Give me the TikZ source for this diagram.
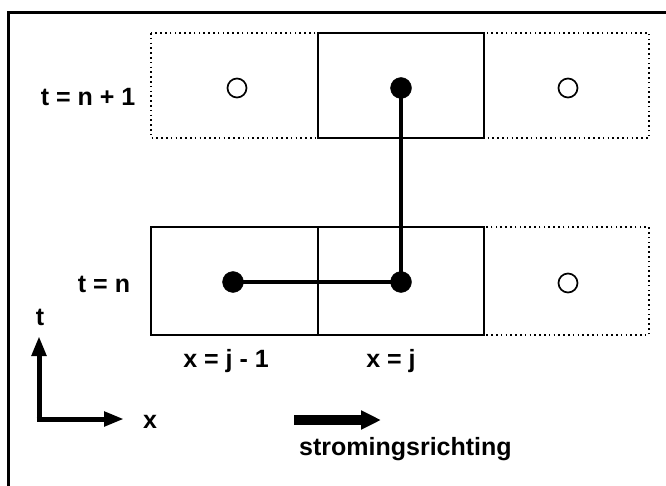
\documentclass[tikz,border=0pt]{standalone}
\usepackage{fontspec}
\setmainfont{Liberation Sans}
\usetikzlibrary{arrows.meta}
\begin{document}
\begin{tikzpicture}[x=1pt,y=-1pt,
  lbl/.style={font=\bfseries\fontsize{25}{27}\selectfont, inner sep=0pt},
  cellsolid/.style={draw, line width=2pt},
  celldot/.style={draw, line width=1.6pt, dash pattern=on 1.6pt off 3.2pt},
  opendot/.style={circle, draw, line width=1.7pt, minimum size=19pt, inner sep=0pt},
  fulldot/.style={circle, fill, draw, minimum size=21pt, inner sep=0pt},
  link/.style={line width=3.2pt},
  axis/.style={line width=5pt, -{Triangle[length=20pt,width=14pt]}},
  flow/.style={line width=10pt, -{Triangle[length=20pt,width=18pt]}}]
\useasboundingbox (0,0) rectangle (666,486);
\fill[white] (0,0) rectangle (666,486);
\begin{scope}
\clip (0,0) rectangle (666,486);
\draw[line width=3pt] (8,13) rectangle (690,500);
\end{scope}
% top row
\draw[celldot] (151,33) rectangle (649,138);
\draw[cellsolid, fill=white] (318,33) rectangle (484,138);
% bottom row
\draw[celldot] (484,227) rectangle (649,335);
\draw[cellsolid] (151,227) rectangle (484,335);
\draw[line width=2pt] (318,227) -- (318,335);
% dots
\node[opendot] (a1) at (237,88) {};
\node[fulldot] (b1) at (401,88) {};
\node[opendot] (c1) at (568,88) {};
\node[fulldot] (a0) at (233,282) {};
\node[fulldot] (b0) at (401,282) {};
\node[opendot] (c0) at (568,283) {};
\draw[link] (b1.center) -- (b0.center);
\draw[link] (a0.center) -- (b0.center);
% labels
\node[lbl] (ltop) at (88,97) {t = n + 1};
\node[lbl] (lbot) at (104,284) {t = n};
\node[lbl] (lj1) at (226,361) {x = j - 1};
\node[lbl] (lj) at (391,361) {x = j};
% axes
\coordinate (O) at (39,419);
\coordinate (T) at (39,336);
\coordinate (X) at (124,419);
\draw[axis] ([yshift=2.5pt]O) -- (T);
\draw[axis] ([xshift=-2.5pt]O) -- (X);
\node[lbl] (tl) at (40,317) {t};
\node[lbl] (xl) at (150,422) {x};
% flow direction
\coordinate (F0) at (294,420);
\coordinate (F1) at (381,420);
\draw[flow] (F0) -- (F1);
\node[lbl, anchor=base west] (flowtxt) at (299,455) {stromingsrichting};
\end{tikzpicture}
\end{document}
